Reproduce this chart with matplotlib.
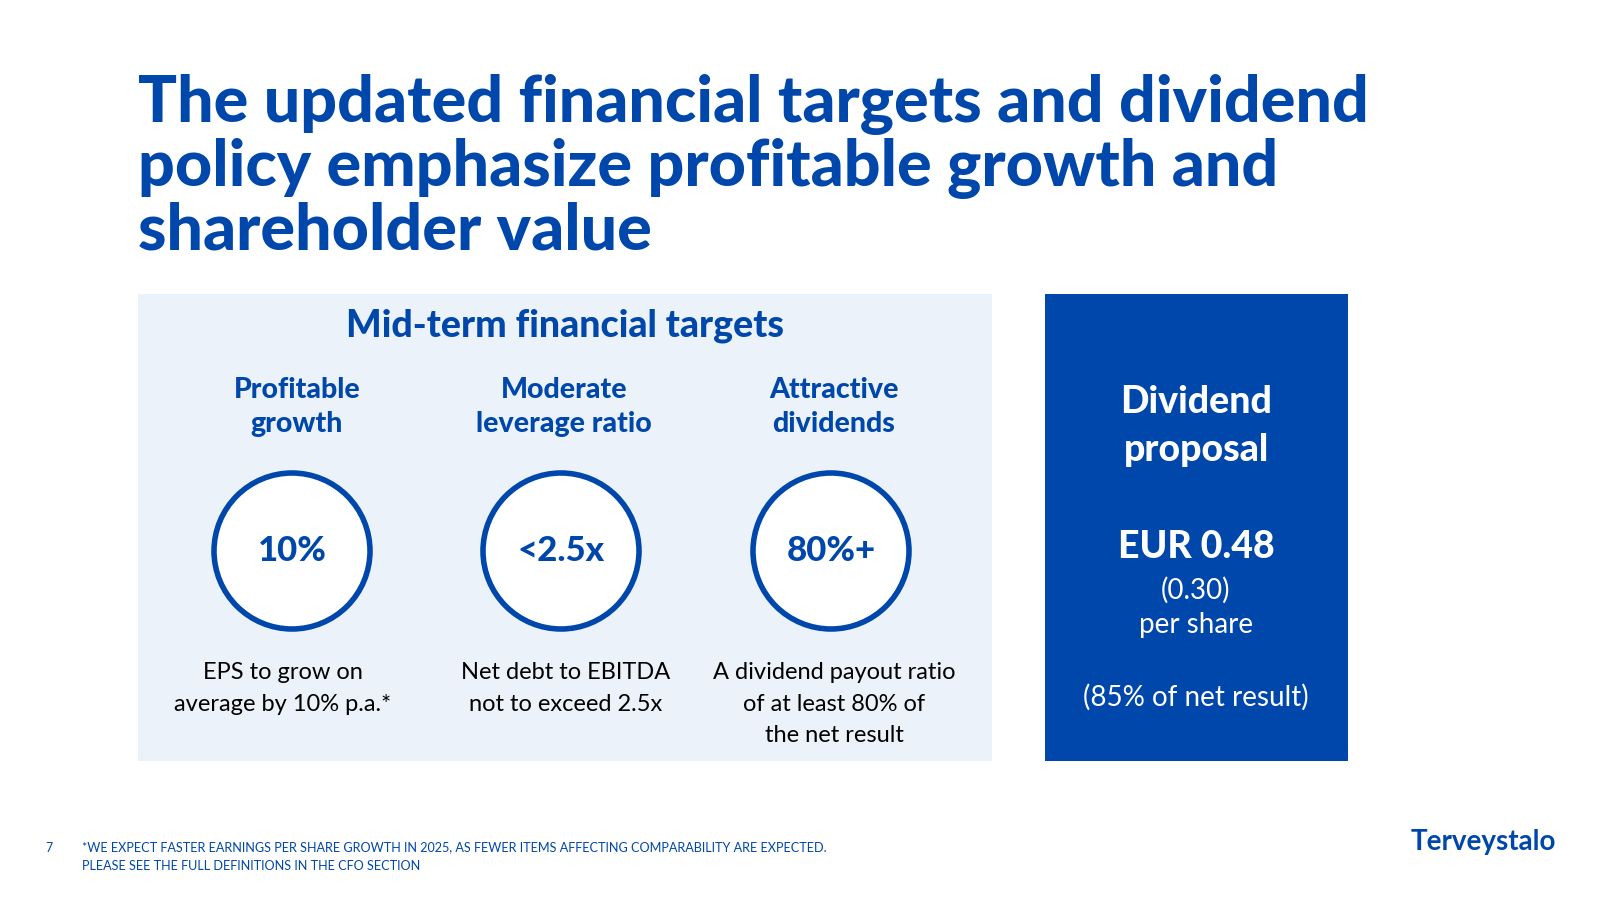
import matplotlib
matplotlib.use("Agg")
import matplotlib.pyplot as plt
from matplotlib.patches import Circle, Rectangle

BLUE = "#0047AB"
LIGHT = "#EBF2F9"

TITLE_LINES = [
    "The updated financial targets and dividend",
    "policy emphasize profitable growth and",
    "shareholder value",
]
PANEL_TITLE = "Mid-term financial targets"
TARGET_HEADERS = ["Profitable\ngrowth", "Moderate\nleverage ratio", "Attractive\ndividends"]
TARGET_VALUES = ["10%", "<2.5x", "80%+"]
TARGET_DESCRIPTIONS = [
    "EPS to grow on\naverage by 10% p.a.*",
    "Net debt to EBITDA\nnot to exceed 2.5x",
    "A dividend payout ratio\nof at least 80% of\nthe net result",
]
DIVIDEND_HEAD = "Dividend\nproposal"
DIVIDEND_VALUE = "EUR 0.48"
DIVIDEND_PREV = "(0.30)"
DIVIDEND_UNIT = "per share"
DIVIDEND_PAYOUT = "(85% of net result)"
PAGE_NO = "7"
FOOTNOTE = ("*WE EXPECT FASTER EARNINGS PER SHARE GROWTH IN 2025, AS FEWER ITEMS AFFECTING COMPARABILITY ARE EXPECTED.\n"
            "PLEASE SEE THE FULL DEFINITIONS IN THE CFO SECTION")
LOGO = "Terveystalo"

HEAVY = ["Lato", "DejaVu Sans"]
BODY = ["Lato", "DejaVu Sans"]

fig = plt.figure(figsize=(16, 9), dpi=100)
ax = fig.add_axes([0, 0, 1, 1])
ax.set_xlim(0, 1600)
ax.set_ylim(900, 0)
ax.axis("off")

# title
for i, line in enumerate(TITLE_LINES):
    ax.text(138, 122 + i * 64, line, family=HEAVY, fontweight="black", fontsize=46.5,
            color=BLUE, ha="left", va="baseline")

# panels
ax.add_patch(Rectangle((138, 294), 854, 467, color=LIGHT, lw=0))
ax.add_patch(Rectangle((1045, 294), 303, 467, color=BLUE, lw=0))

ax.text(565, 326, PANEL_TITLE, family=HEAVY, fontweight="black", fontsize=27,
        color=BLUE, ha="center", va="center")

head_x = [297, 564, 834]
circle_x = [292, 561, 831]
desc_x = [283, 566, 834]
for hx, cx, dx, head, val, desc in zip(head_x, circle_x, desc_x, TARGET_HEADERS,
                                       TARGET_VALUES, TARGET_DESCRIPTIONS):
    ax.text(hx, 407, head, family=HEAVY, fontweight="black", fontsize=20.5, color=BLUE,
            ha="center", va="center", linespacing=1.4)
    ax.add_patch(Circle((cx, 551), 78, facecolor="white", edgecolor=BLUE, lw=4))
    ax.text(cx, 551, val, family=HEAVY, fontweight="black", fontsize=25, color=BLUE,
            ha="center", va="center")
    ax.text(dx, 662, desc, family=BODY, fontsize=17, color="black",
            ha="center", va="top", linespacing=1.62)

# dividend box
ax.text(1196, 426, DIVIDEND_HEAD, family=HEAVY, fontweight="black", fontsize=27, color="white",
        ha="center", va="center", linespacing=1.5)
ax.text(1196, 547, DIVIDEND_VALUE, family=HEAVY, fontweight="black", fontsize=27, color="white",
        ha="center", va="center")
ax.text(1196, 590, DIVIDEND_PREV, family=BODY, fontsize=20, color="white", ha="center", va="center")
ax.text(1196, 625, DIVIDEND_UNIT, family=BODY, fontsize=20, color="white", ha="center", va="center")
ax.text(1196, 697, DIVIDEND_PAYOUT, family=BODY, fontsize=20, color="white", ha="center", va="center")

# footer
ax.text(45, 848, PAGE_NO, family=BODY, fontsize=9, color=BLUE, ha="left", va="center")
ax.text(82, 841, FOOTNOTE, family=BODY, fontsize=9.1, color=BLUE, ha="left", va="top", linespacing=1.7)
ax.text(1556, 842, LOGO, family=BODY, fontweight="bold", fontsize=20, color=BLUE,
        ha="right", va="center")

fig.savefig("out.png", dpi=100, facecolor="white")
